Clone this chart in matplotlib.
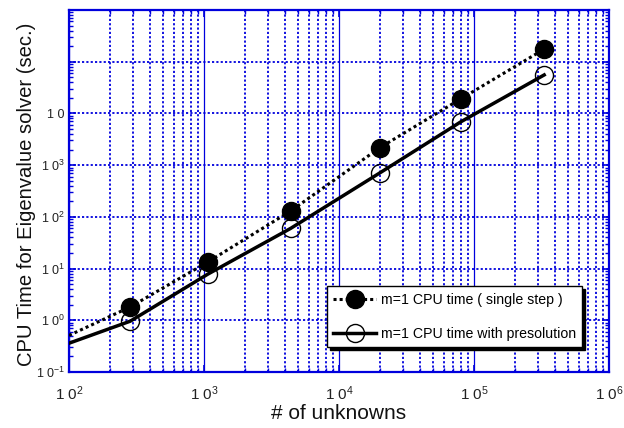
import numpy as np
import matplotlib
matplotlib.use("Agg")
import matplotlib.pyplot as plt
from matplotlib.ticker import FixedLocator, FuncFormatter, LogLocator, NullFormatter

plt.rcParams['font.family'] = ['Liberation Sans', 'DejaVu Sans']
plt.rcParams['mathtext.default'] = 'regular'

# data
unknowns = [284, 1067, 4390, 20100, 80000, 331000]
cpu_single = [1.81, 13.4, 130, 2180, 19200, 175000]
cpu_presol = [0.96, 7.8, 60, 710, 6900, 55500]

# the plotted lines start at the left edge of the axes
line_x = [100] + unknowns
line_single = [0.51] + cpu_single
line_presol = [0.36] + cpu_presol

labels = ['m=1 CPU time ( single step )', 'm=1 CPU time with presolution']
xlabel = '# of unknowns'
ylabel = 'CPU Time for Eigenvalue solver (sec.)'

blue = '#0000dd'

fig = plt.figure(figsize=(6.24, 4.28), dpi=100)
ax = fig.add_axes([69 / 624, (428 - 372) / 428, 540 / 624, 362 / 428])
ax.set_xscale('log')
ax.set_yscale('log')
ax.set_xlim(1e2, 1e6)
ax.set_ylim(1e-1, 1e6)

# grid
ax.xaxis.set_major_locator(FixedLocator([1e2, 1e3, 1e4, 1e5, 1e6]))
ax.xaxis.set_minor_locator(LogLocator(base=10, subs=np.arange(2, 10), numticks=20))
ax.yaxis.set_major_locator(FixedLocator([10.0 ** k for k in range(-1, 7)]))
ax.yaxis.set_minor_locator(LogLocator(base=10, subs=np.arange(2, 10), numticks=20))
ax.grid(True, which='major', axis='x', color=blue, lw=0.9, ls='-')
ax.grid(True, which='minor', axis='x', color=blue, lw=1.3, ls=(0, (1.2, 1.2)))
ax.grid(True, which='major', axis='y', color=blue, lw=1.3, ls=(0, (1.2, 1.2)))
ax.set_axisbelow(True)


def xfmt(v, pos):
    return '1 0$^{%d}$' % int(round(np.log10(v)))


def yfmt(v, pos):
    e = int(round(np.log10(v)))
    if e <= 3:
        return '1 0$^{%d}$' % e
    if e == 4:
        return '1 0'
    return ''


ax.xaxis.set_major_formatter(FuncFormatter(xfmt))
ax.yaxis.set_major_formatter(FuncFormatter(yfmt))
ax.xaxis.set_minor_formatter(NullFormatter())
ax.yaxis.set_minor_formatter(NullFormatter())

ax.tick_params(axis='both', which='both', direction='in', colors=blue,
               labelcolor='#222222', top=True, right=True)
ax.tick_params(axis='both', which='major', length=5, width=1.2)
ax.tick_params(axis='both', which='minor', length=3, width=1.0)
ax.tick_params(axis='x', which='major', pad=9, labelsize=11)
ax.tick_params(axis='y', which='major', pad=3, labelsize=9)
for s in ax.spines.values():
    s.set_color(blue)
    s.set_linewidth(1.6)

ax.plot(line_x, line_single, color='black', lw=2.2, ls=(0, (1, 1)), zorder=3)
ax.plot(line_x, line_presol, color='black', lw=2.5, ls='-', zorder=3)
ax.plot(unknowns, cpu_single, 'o', color='black', ms=13, zorder=4)
ax.plot(unknowns, cpu_presol, 'o', mfc='none', mec='black', mew=1.0, ms=13, zorder=4)

h1 = plt.Line2D([], [], color='black', lw=2.2, ls=(0, (1, 1)), marker='o', ms=13)
h2 = plt.Line2D([], [], color='black', lw=2.5, ls='-', marker='o', ms=13,
                mfc='none', mec='black', mew=1.0)
leg = ax.legend([h1, h2], labels, loc='lower left',
                bbox_to_anchor=(0.478, 0.069), fontsize=10.2,
                handlelength=3.0, handletextpad=0.35, labelspacing=1.4,
                borderpad=0.45, borderaxespad=0, fancybox=False,
                shadow={'color': 'black', 'alpha': 1}, framealpha=1)
leg.get_frame().set_edgecolor('black')
leg.get_frame().set_linewidth(1.0)

ax.set_xlabel(xlabel, fontsize=15, color='#111111', labelpad=1)
ax.set_ylabel(ylabel, fontsize=14.6, color='#111111')
ax.yaxis.set_label_coords(-0.062, 0.49)

fig.savefig('out.png', dpi=100)
